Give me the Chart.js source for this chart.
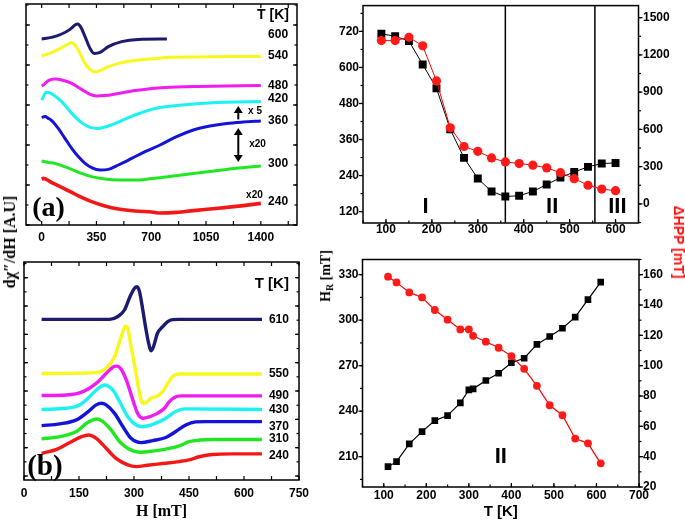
<!DOCTYPE html>
<html><head><meta charset="utf-8">
<script src="https://cdn.jsdelivr.net/npm/chart.js@4.4.1/dist/chart.umd.min.js"></script>
<style>
html,body{margin:0;padding:0;background:#fff;}
#wrap{position:relative;width:685px;height:521px;overflow:hidden;background:#fff;}
#wrap canvas{position:absolute;}
.vt{position:absolute;white-space:nowrap;font-weight:bold;line-height:1;}
.vt sub{font-size:70%;vertical-align:-3px;}
</style></head><body>
<div id="wrap">
<canvas id="ca" width="320" height="250" style="left:0;top:0"></canvas>
<canvas id="cb" width="320" height="271" style="left:0;top:250px"></canvas>
<canvas id="cc" width="355" height="250" style="left:330px;top:0"></canvas>
<canvas id="cd" width="355" height="271" style="left:330px;top:250px"></canvas>
<div class="vt" style="left:10px;top:242px;transform:translate(-50%,-50%) rotate(-90deg);font-family:'Liberation Serif';font-size:16px;">dχ″/dH [A.U]</div>
<div class="vt" style="left:327px;top:276px;transform:translate(-50%,-50%) rotate(-90deg);font-family:'Liberation Serif';font-size:14px;">H<sub>R</sub> [mT]</div>
<div class="vt" style="left:679px;top:242px;transform:translate(-50%,-50%) rotate(90deg);font-family:'Liberation Sans';font-size:14px;color:#ff1010;">ΔHPP [mT]</div>
</div>
<script>
// ---------------- Panel (a): offset dχ''/dH traces vs H [mT] ----------------
const aTemps = ['600','540','480','420','360','300','240'];
const aH600 = [0,64,128,181,213,230,251,277,309,336,373,426,511,617,800];
const aY600 = [9.30,9.38,9.55,9.78,10.0,10.05,9.88,9.42,8.83,8.58,8.63,8.92,9.17,9.28,9.30];
const aH540 = [0,64,128,170,192,213,245,277,309,341,373,426,511,617,745,788,1000,1200,1400];
const aY540 = [8.45,8.62,8.87,9.05,9.12,9.0,8.58,8.08,7.78,7.65,7.72,7.92,8.12,8.25,8.33,8.37,8.40,8.42,8.42];
const aH480 = [0,11,43,85,128,192,255,309,351,404,490,596,703,788,1000,1400];
const aY480 = [6.95,7.0,7.22,7.30,7.25,7.08,6.78,6.53,6.45,6.47,6.58,6.72,6.83,6.88,6.93,6.97];
const aH420 = [0,11,26,43,75,128,192,255,309,362,426,511,596,703,756,969,1182,1400];
const aY420 = [6.25,6.42,6.62,6.62,6.5,6.17,5.58,5.12,4.88,4.83,4.95,5.22,5.5,5.78,5.88,6.05,6.14,6.17];
const aH360 = [0,21,43,64,106,149,192,234,277,319,373,426,490,575,660,756,862,969,1075,1182,1288,1400];
const aY360 = [5.38,5.42,5.33,5.22,4.83,4.33,3.83,3.42,3.08,2.87,2.75,2.78,3.0,3.33,3.67,4.0,4.42,4.75,4.95,5.08,5.15,5.2];
const aH300 = [0,43,85,128,192,255,319,404,490,596,703,756,969,1182,1400];
const aY300 = [3.20,3.13,3.08,2.97,2.78,2.58,2.42,2.30,2.25,2.25,2.32,2.36,2.58,2.78,2.95];
const aH240 = [0,11,64,128,192,255,319,404,490,596,703,756,862,969,1075,1182,1288,1400];
const aY240 = [2.30,2.33,2.12,1.88,1.63,1.38,1.17,0.95,0.80,0.70,0.65,0.60,0.63,0.72,0.80,0.88,0.97,1.08];
const aXTicks = [0,350,700,1050,1400];

// ---------------- Panel (b) ----------------
const bTemps = ['610','550','490','430','370','310','240'];
const bH610 = [48,233,256,274,289,301,308,315,324,333,340,346,353,364,378,392,405,423,649];
const bY610 = [5.53,5.53,5.63,5.86,6.33,6.62,6.68,6.51,5.86,5.15,4.68,4.42,4.56,5.04,5.27,5.45,5.52,5.53,5.53];
const bH550 = [48,197,224,247,262,271,277,283,292,304,315,324,333,346,364,378,392,405,423,649];
const bY550 = [3.62,3.65,3.80,4.21,4.80,5.15,5.29,5.21,4.57,3.74,2.92,2.57,2.59,2.74,2.83,2.98,3.27,3.51,3.60,3.60];
const bH490 = [48,116,161,197,224,242,253,265,279,297,310,324,342,364,383,396,410,428,649];
const bY490 = [2.84,2.86,2.98,3.27,3.62,3.84,3.88,3.77,3.39,2.68,2.21,2.04,2.09,2.21,2.39,2.62,2.77,2.83,2.83];
const bH430 = [48,116,152,179,202,220,229,242,261,283,306,324,346,369,387,405,423,441,649];
const bY430 = [2.35,2.39,2.51,2.80,3.09,3.21,3.18,3.04,2.62,2.09,1.80,1.74,1.80,1.92,2.04,2.21,2.33,2.37,2.35];
const bH370 = [48,98,143,175,197,211,224,247,270,292,319,351,387,414,441,468,496,649];
const bY370 = [1.78,1.84,1.98,2.27,2.51,2.57,2.51,2.21,1.74,1.33,1.18,1.25,1.36,1.57,1.80,1.91,1.92,1.92];
const bH310 = [48,98,143,170,188,199,215,238,261,288,315,351,387,423,450,478,514,649];
const bY310 = [1.31,1.39,1.57,1.86,1.98,2.01,1.92,1.62,1.21,0.94,0.84,0.88,0.95,1.06,1.21,1.27,1.29,1.29];
const bH240 = [48,89,125,157,177,197,224,251,283,306,342,387,423,450,478,514,568,649];
const bY240 = [0.80,0.94,1.18,1.39,1.45,1.33,0.98,0.62,0.39,0.33,0.39,0.45,0.51,0.57,0.68,0.76,0.78,0.78];
const bXTicks = [0,150,300,450,600,750];

// ---------------- Panel (c): H_R and ΔHpp vs T ----------------
const cT   = [90,120,150,180,210,240,270,300,330,360,390,420,450,480,510,540,570,600];
const cHR  = [712,704,688,610,531,394,299,230,187,170,173,187,210,233,252,269,280,282];
const cDHpp= [1315,1315,1342,1273,990,613,462,423,370,338,325,312,290,251,203,150,119,106];
const cBounds = [360,555];
const cRegions = ['I','II','III'];
const cXTicks = [100,200,300,400,500,600];
const cYTicks = [120,240,360,480,600,720];
const cY2Ticks = [0,300,600,900,1200,1500];

// ---------------- Panel (d) ----------------
const dT   = [110,130,160,190,220,250,280,300,310,340,370,400,430,460,490,520,550,580,610];
const dHR  = [203.4,206.7,218.4,226.5,233.8,237.1,245.5,254.0,254.7,260.2,265,271.9,274.9,284,289.2,294.7,302,313.5,325.1];
const dDHpp= [158.7,154.9,148.3,145,136.7,130.3,123.9,123.9,119.7,115.8,111.8,106.3,97.9,86.7,73.9,67.3,51.9,48.8,35.6];
const dXTicks = [100,200,300,400,500,600,700];
const dYTicks = [210,240,270,300,330];
const dY2Ticks = [20,40,60,80,100,120,140,160];

// ---------------- helpers ----------------
const pts = (xs, ys) => xs.map((x, i) => ({x, y: ys[i]}));
const SANS = 'Liberation Sans', SERIF = 'Liberation Serif';
const tickFont = {family: SANS, size: 12, weight: 'bold'};
const zero = s => { s.paddingLeft = 0; s.paddingRight = 0; s.paddingTop = 0; s.paddingBottom = 0; };
const fitH = h => s => { s.height = h; zero(s); };
const fitW = w => s => { s.width = w; zero(s); };
const setTicks = arr => s => { s.ticks = arr.map(v => ({value: v})); };
const COL = {navy:'#1b1b70', yellow:'#f8f81c', magenta:'#f01cf0', cyan:'#1cf2f2', blue:'#1414d8', green:'#22e622', red:'#f21818'};

function frameTicks(marks, lw) {
  return { id: 'frameTicks', afterDatasetsDraw(chart) {
    const {ctx, chartArea: a} = chart;
    ctx.save(); ctx.strokeStyle = '#000'; ctx.lineWidth = lw;
    ctx.strokeRect(a.left, a.top, a.right - a.left, a.bottom - a.top);
    ctx.lineWidth = 1.2;
    marks.forEach(m => {
      const s = chart.scales[m.scale];
      const k0 = Math.ceil(s.min / m.step - 1e-9), k1 = Math.floor(s.max / m.step + 1e-9);
      for (let k = k0; k <= k1; k++) {
        const p = s.getPixelForValue(k * m.step);
        const d = m.inward ? 1 : -1;
        m.sides.forEach(side => {
          ctx.beginPath();
          if (side === 'bottom') { ctx.moveTo(p, a.bottom); ctx.lineTo(p, a.bottom - d * m.len); }
          if (side === 'top') { ctx.moveTo(p, a.top); ctx.lineTo(p, a.top + d * m.len); }
          if (side === 'left') { ctx.moveTo(a.left, p); ctx.lineTo(a.left + d * m.len, p); }
          if (side === 'right') { ctx.moveTo(a.right, p); ctx.lineTo(a.right - d * m.len, p); }
          ctx.stroke();
        });
      }
    });
    ctx.restore();
  }};
}
function notes(texts, arrows, xId, yId) {
  return { id: 'notes', afterDatasetsDraw(chart) {
    const {ctx} = chart; const xs = chart.scales[xId], ys = chart.scales[yId];
    ctx.save();
    texts.forEach(t => {
      ctx.font = t.font; ctx.fillStyle = t.color || '#000';
      ctx.textAlign = t.align || 'left'; ctx.textBaseline = 'middle';
      ctx.fillText(t.text, xs.getPixelForValue(t.x), ys.getPixelForValue(t.y));
    });
    arrows.forEach(ar => {
      const x = xs.getPixelForValue(ar.x), y1 = ys.getPixelForValue(ar.y1), y2 = ys.getPixelForValue(ar.y2);
      const top = Math.min(y1, y2), bot = Math.max(y1, y2);
      ctx.strokeStyle = '#000'; ctx.fillStyle = '#000'; ctx.lineWidth = 2;
      ctx.beginPath(); ctx.moveTo(x, top + (ar.up ? 4 : 0)); ctx.lineTo(x, bot - (ar.down ? 4 : 0)); ctx.stroke();
      const head = (yy, dir) => { ctx.beginPath(); ctx.moveTo(x, yy); ctx.lineTo(x - 4.5, yy + dir * 7); ctx.lineTo(x + 4.5, yy + dir * 7); ctx.closePath(); ctx.fill(); };
      if (ar.up) head(top, 1);
      if (ar.down) head(bot, -1);
    });
    ctx.restore();
  }};
}
const line = (data, color, w) => ({data, borderColor: color, backgroundColor: color, borderWidth: w, pointRadius: 0, cubicInterpolationMode: 'monotone', fill: false});
const base = {responsive: false, animation: false, events: [], plugins: {legend: {display: false}, tooltip: {enabled: false}}};

// ---------------- Chart (a) ----------------
const aSeries = [[aH600,aY600,COL.navy],[aH540,aY540,COL.yellow],[aH480,aY480,COL.magenta],[aH420,aY420,COL.cyan],[aH360,aY360,COL.blue],[aH300,aY300,COL.green],[aH240,aY240,COL.red]];
const aLabelY = [9.5,8.45,6.95,6.3,5.2,3.05,1.15];
new Chart(document.getElementById('ca'), {
  type: 'line',
  data: {datasets: aSeries.map((s, i) => line(pts(s[0], s[1]), s[2], i === 6 ? 3.6 : 3))},
  options: {...base,
    layout: {padding: {left: 26, top: 4, right: 23, bottom: 5}},
    scales: {
      x: {type: 'linear', bounds: 'data', min: -100, max: 1631, afterBuildTicks: setTicks(aXTicks), afterFit: fitH(20),
          grid: {display: false, drawTicks: false}, border: {display: false},
          ticks: {padding: 5, font: tickFont, color: '#000', autoSkip: false, maxRotation: 0, callback: v => String(v)}},
      y: {type: 'linear', bounds: 'data', min: 0, max: 11.05, display: false}
    }},
  plugins: [
    frameTicks([{scale:'x', step:175, len:4, inward:true, sides:['bottom','top']},
                {scale:'y', step:2, len:4, inward:true, sides:['left','right']},
                {scale:'y', step:1, len:2.5, inward:true, sides:['left','right']}], 1.5),
    notes([
      ...aTemps.map((t, i) => ({text: t, x: 1446, y: aLabelY[i], font: 'bold 12px "Liberation Sans"'})),
      {text: 'T [K]', x: 1478, y: 10.5, align: 'center', font: 'bold 14px "Liberation Sans"'},
      {text: 'x 5', x: 1363, y: 5.67, align: 'center', font: 'bold 10px "Liberation Sans"'},
      {text: 'x20', x: 1379, y: 4.05, align: 'center', font: 'bold 10px "Liberation Sans"'},
      {text: 'x20', x: 1359, y: 1.47, align: 'center', font: 'bold 10px "Liberation Sans"'},
      {text: '(a)', x: 44, y: 0.8, align: 'center', font: 'bold 28px "Liberation Serif"'}
    ], [
      {x: 1256, y1: 5.28, y2: 5.95, up: true},
      {x: 1256, y1: 3.15, y2: 4.85, up: true, down: true}
    ], 'x', 'y')
  ]
});

// ---------------- Chart (b) ----------------
const bSeries = [[bH610,bY610,COL.navy],[bH550,bY550,COL.yellow],[bH490,bY490,COL.magenta],[bH430,bY430,COL.cyan],[bH370,bY370,COL.blue],[bH310,bY310,COL.green],[bH240,bY240,COL.red]];
const bLabelY = [5.53,3.6,2.82,2.35,1.74,1.30,0.71];
new Chart(document.getElementById('cb'), {
  type: 'line',
  data: {datasets: bSeries.map(s => line(pts(s[0], s[1]), s[2], 3.4))},
  options: {...base,
    layout: {padding: {left: 24, top: 12, right: 21, bottom: 0}},
    scales: {
      x: {type: 'linear', bounds: 'data', min: 0, max: 750, afterBuildTicks: setTicks(bXTicks), afterFit: fitH(41),
          grid: {display: false, drawTicks: false}, border: {display: false},
          ticks: {padding: 6, font: tickFont, color: '#000', autoSkip: false, maxRotation: 0, callback: v => String(v)},
          title: {display: true, text: 'H [mT]', color: '#000', font: {family: SERIF, size: 16, weight: 'bold'}, padding: {top: 0, bottom: 0}}},
      y: {type: 'linear', bounds: 'data', min: -0.141, max: 7.554, display: false}
    }},
  plugins: [
    frameTicks([{scale:'x', step:75, len:4, inward:true, sides:['bottom','top']},
                {scale:'y', step:1, len:4, inward:true, sides:['left','right']},
                {scale:'y', step:0.5, len:2.5, inward:true, sides:['left','right']}], 1.5),
    notes([
      ...bTemps.map((t, i) => ({text: t, x: 668, y: bLabelY[i], font: 'bold 12px "Liberation Sans"'})),
      {text: 'T [K]', x: 676, y: 6.8, align: 'center', font: 'bold 15px "Liberation Sans"'},
      {text: '(b)', x: 57, y: 0.3, align: 'center', font: 'bold 29px "Liberation Serif"'}
    ], [], 'x', 'y')
  ]
});

// ---------------- Chart (c) ----------------
new Chart(document.getElementById('cc'), {
  type: 'line',
  data: {datasets: [
    {data: pts(cT, cDHpp), yAxisID: 'y2', borderColor: '#ff0000', backgroundColor: '#ff1a1a', borderWidth: 1, pointStyle: 'circle', pointRadius: 4.6, pointBorderWidth: 0, tension: 0},
    {data: pts(cT, cHR), yAxisID: 'y', borderColor: '#000', backgroundColor: '#000', borderWidth: 1, pointStyle: 'rect', pointRadius: 5.6, pointBorderWidth: 0, tension: 0},
    ...cBounds.map(b => ({data: [{x: b, y: 82}, {x: b, y: 806}], yAxisID: 'y', borderColor: '#000', borderWidth: 1.5, pointRadius: 0}))
  ]},
  options: {...base,
    layout: {padding: {left: 0, top: 2, right: 0, bottom: 7}},
    scales: {
      x: {type: 'linear', bounds: 'data', min: 50, max: 650, afterBuildTicks: setTicks(cXTicks), afterFit: fitH(20),
          grid: {display: false, drawTicks: false}, border: {display: false},
          ticks: {padding: -1, font: tickFont, color: '#000', autoSkip: false, maxRotation: 0, callback: v => String(v)}},
      y: {type: 'linear', position: 'left', bounds: 'data', min: 82, max: 806, afterBuildTicks: setTicks(cYTicks), afterFit: fitW(33),
          grid: {display: false, drawTicks: false}, border: {display: false},
          ticks: {padding: 4, font: tickFont, color: '#000', callback: v => String(v)}},
      y2: {type: 'linear', position: 'right', bounds: 'data', min: -154, max: 1597, afterBuildTicks: setTicks(cY2Ticks), afterFit: fitW(46.5),
          grid: {display: false, drawTicks: false}, border: {display: false},
          ticks: {padding: 4.5, font: tickFont, color: '#000', callback: v => String(v)}}
    }},
  plugins: [
    frameTicks([{scale:'x', step:100, len:4, inward:true, sides:['bottom']},
                {scale:'x', step:50, len:2.5, inward:true, sides:['bottom']},
                {scale:'y', step:120, len:4, inward:false, sides:['left']},
                {scale:'y', step:60, len:2.5, inward:false, sides:['left']},
                {scale:'y2', step:300, len:4, inward:false, sides:['right']},
                {scale:'y2', step:150, len:2.5, inward:false, sides:['right']}], 1.5),
    notes(cRegions.map((r, i) => ({text: r, x: [186, 462, 604][i], y: 137, align: 'center', font: 'bold 22px "Liberation Sans"'})), [], 'x', 'y')
  ]
});

// ---------------- Chart (d) ----------------
new Chart(document.getElementById('cd'), {
  type: 'line',
  data: {datasets: [
    {data: pts(dT, dDHpp), yAxisID: 'y2', borderColor: '#ff0000', backgroundColor: '#ff1a1a', borderWidth: 1.2, pointStyle: 'circle', pointRadius: 3.9, pointBorderWidth: 0, tension: 0},
    {data: pts(dT, dHR), yAxisID: 'y', borderColor: '#000', backgroundColor: '#000', borderWidth: 1.2, pointStyle: 'rect', pointRadius: 4.7, pointBorderWidth: 0, tension: 0}
  ]},
  options: {...base,
    layout: {padding: {left: 0, top: 9.5, right: 0, bottom: 0}},
    scales: {
      x: {type: 'linear', bounds: 'data', min: 50, max: 700, afterBuildTicks: setTicks(dXTicks), afterFit: fitH(34),
          grid: {display: false, drawTicks: false}, border: {display: false},
          ticks: {padding: 1, font: tickFont, color: '#000', autoSkip: false, maxRotation: 0, callback: v => String(v)},
          title: {display: true, text: 'T [K]', color: '#000', font: {family: SANS, size: 15, weight: 'bold'}, padding: {top: 0, bottom: 0}}},
      y: {type: 'linear', position: 'left', bounds: 'data', min: 190, max: 340, afterBuildTicks: setTicks(dYTicks), afterFit: fitW(32.5),
          grid: {display: false, drawTicks: false}, border: {display: false},
          ticks: {padding: 4, font: tickFont, color: '#000', callback: v => String(v)}},
      y2: {type: 'linear', position: 'right', bounds: 'data', min: 20, max: 170, afterBuildTicks: setTicks(dY2Ticks), afterFit: fitW(46),
          grid: {display: false, drawTicks: false}, border: {display: false},
          ticks: {padding: 4, font: tickFont, color: '#000', callback: v => String(v)}}
    }},
  plugins: [
    frameTicks([{scale:'x', step:100, len:4, inward:true, sides:['bottom']},
                {scale:'x', step:50, len:2.5, inward:true, sides:['bottom']},
                {scale:'y', step:30, len:4, inward:false, sides:['left']},
                {scale:'y', step:15, len:2.5, inward:false, sides:['left']},
                {scale:'y2', step:20, len:4, inward:false, sides:['right']},
                {scale:'y2', step:10, len:2.5, inward:false, sides:['right']}], 1.5),
    notes([{text: 'II', x: 375, y: 210, align: 'center', font: 'bold 22px "Liberation Sans"'}], [], 'x', 'y')
  ]
});
</script>
</body></html>
